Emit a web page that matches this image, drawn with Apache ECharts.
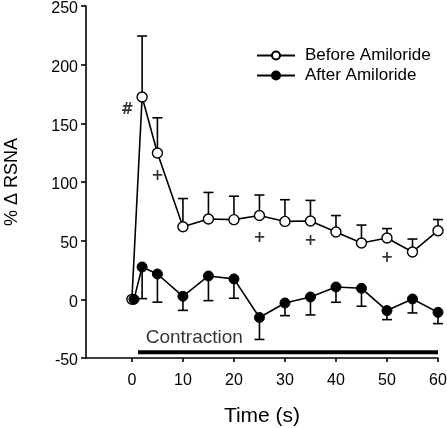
<!DOCTYPE html>
<html>
<head>
<meta charset="utf-8">
<script src="https://cdn.jsdelivr.net/npm/echarts@6/dist/echarts.min.js"></script>
<style>
html,body{margin:0;padding:0;background:#fff;}
#chart{width:447px;height:428px;}
</style>
</head>
<body>
<div id="chart"></div>
<script>
// ---- data ----
var times = [0, 2, 5, 10, 15, 20, 25, 30, 35, 40, 45, 50, 55, 60];
var afterTimes = [0.4, 2, 5, 10, 15, 20, 25, 30, 35, 40, 45, 50, 55, 60];
var beforeMean = [0, 172.4, 124.7, 61.9, 68.5, 67.9, 71.4, 66.4, 66.7, 57.4, 48.0, 52.3, 40.4, 58.5];
var beforeSE   = [0, 52, 30, 24, 22.6, 20, 17.5, 18.5, 17.6, 14, 15.3, 8, 11, 9.5];
var afterMean  = [0, 27.6, 21.6, 2.6, 19.9, 17.4, -15.5, -3.1, 2.0, 10.5, 9.4, -9.6, 0.3, -11.1];
var afterSE    = [0, 27, 24, 12, 21, 16.5, 18.7, 10.8, 15.3, 13, 15.3, 7.7, 11.9, 9.6];
var xTicks = [0, 10, 20, 30, 40, 50, 60];
var seriesNames = ['Before Amiloride', 'After Amiloride'];
// significance markers: [time, value, text]
var marks = [[-0.9, 161.5, '#'], [5, 104.7, '+'], [25, 51.9, '+'], [35, 49.7, '+'], [50, 34.9, '+'], [60.5, 41.5, '+']];
var contractionPeriod = [[1.2, -45], [60, -45]];
var contractionLabel = [[2.7, -32.4, 'Contraction']];

var FONT = '"Liberation Sans", Arial, sans-serif';

function pairs(xs, ys) { return xs.map(function (x, i) { return [x, ys[i]]; }); }

function errBarSeries(xs, means, ses, dir, z) {
  var data = xs.map(function (x, i) { return [x, means[i], means[i] + dir * ses[i]]; });
  return {
    type: 'custom',
    z: z,
    silent: true,
    data: data,
    renderItem: function (params, api) {
      var p0 = api.coord([api.value(0), api.value(1)]);
      var p1 = api.coord([api.value(0), api.value(2)]);
      var hw = 5;
      var st = { stroke: '#000', lineWidth: 1.6 };
      return {
        type: 'group',
        children: [
          { type: 'line', shape: { x1: p0[0], y1: p0[1], x2: p1[0], y2: p1[1] }, style: st },
          { type: 'line', shape: { x1: p1[0] - hw, y1: p1[1], x2: p1[0] + hw, y2: p1[1] }, style: st }
        ]
      };
    }
  };
}

var chart = echarts.init(document.getElementById('chart'), null, { renderer: 'canvas' });
chart.setOption({
  animation: false,
  backgroundColor: '#fff',
  textStyle: { fontFamily: FONT, color: '#000' },
  grid: { left: 86, right: 9, top: 6, bottom: 70, containLabel: false, outerBoundsMode: 'none' },
  legend: {
    data: seriesNames,
    orient: 'vertical',
    left: 251,
    top: 42,
    itemWidth: 38,
    itemHeight: 10,
    itemGap: 3,
    textStyle: { fontFamily: FONT, fontSize: 17, color: '#000', padding: [0, 0, 0, 5] }
  },
  xAxis: {
    type: 'value',
    min: -9,
    max: 60,
    name: 'Time (s)',
    nameLocation: 'middle',
    nameGap: 48,
    nameTextStyle: { fontFamily: FONT, fontSize: 21, color: '#000' },
    axisLine: { show: true, onZero: false, lineStyle: { color: '#000', width: 1.6 } },
    axisTick: { show: true, customValues: xTicks, length: 4, lineStyle: { color: '#000', width: 1.6 } },
    axisLabel: { customValues: xTicks, margin: 15, fontFamily: FONT, fontSize: 16, color: '#000' },
    splitLine: { show: false }
  },
  yAxis: {
    type: 'value',
    min: -50,
    max: 250,
    interval: 50,
    name: '% \u0394 RSNA',
    nameLocation: 'middle',
    nameGap: 65,
    nameRotate: 90,
    nameTextStyle: { fontFamily: FONT, fontSize: 18, color: '#000' },
    axisLine: { show: true, onZero: false, lineStyle: { color: '#000', width: 1.6 } },
    axisTick: { show: true, length: 5, lineStyle: { color: '#000', width: 1.6 } },
    axisLabel: { margin: 8, fontFamily: FONT, fontSize: 16, color: '#000', verticalAlign: 'top', lineHeight: 6 },
    splitLine: { show: false }
  },
  series: [
    errBarSeries(times, beforeMean, beforeSE, 1, 1),
    errBarSeries(afterTimes, afterMean, afterSE, -1, 1),
    {
      name: seriesNames[0],
      type: 'line',
      z: 3,
      data: pairs(times, beforeMean),
      symbol: 'circle',
      symbolSize: 10,
      showAllSymbol: true,
      lineStyle: { color: '#000', width: 1.6 },
      itemStyle: { color: '#fff', borderColor: '#000', borderWidth: 1.4 }
    },
    {
      name: seriesNames[1],
      type: 'line',
      z: 4,
      data: pairs(afterTimes, afterMean),
      symbol: 'circle',
      symbolSize: 10,
      showAllSymbol: true,
      lineStyle: { color: '#000', width: 1.6 },
      itemStyle: { color: '#000', borderColor: '#000', borderWidth: 1 }
    },
    {
      type: 'line',
      silent: true,
      data: contractionPeriod,
      symbol: 'none',
      lineStyle: { color: '#000', width: 4 }
    },
    {
      type: 'scatter',
      silent: true,
      symbolSize: 0,
      data: marks,
      label: {
        show: true,
        position: 'inside',
        formatter: function (p) { return p.value[2]; },
        fontFamily: '"DejaVu Sans", sans-serif', fontSize: 15, fontWeight: 'bold', color: '#000'
      }
    },
    {
      type: 'scatter',
      silent: true,
      symbolSize: 0,
      data: contractionLabel,
      label: {
        show: true,
        position: 'right',
        distance: 0,
        formatter: function (p) { return p.value[2]; },
        fontFamily: FONT, fontSize: 19, color: '#000'
      }
    }
  ]
});
</script>
</body>
</html>
